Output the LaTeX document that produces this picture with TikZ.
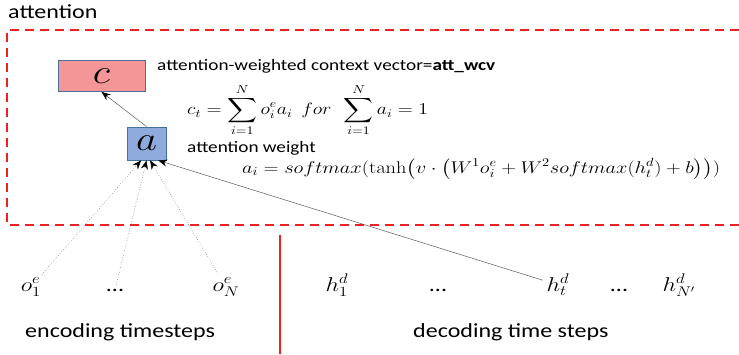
\RequirePackage{fix-cm}
\documentclass[tikz,border=0pt]{standalone}
\usepackage[no-math]{fontspec}
\setmainfont{Carlito}
\usepackage{amsmath}
\usetikzlibrary{arrows.meta}
\definecolor{framered}{RGB}{237,32,36}
\definecolor{boxedge}{RGB}{65,113,156}
\definecolor{cfill}{RGB}{244,150,152}
\definecolor{afill}{RGB}{143,170,220}

\begin{document}
\begin{tikzpicture}[x=0.8333pt, y=-1pt, xscale=1.2,
  every node/.style={transform shape, inner sep=0pt},
  vecbox/.style={draw=boxedge, line width=0.8pt, minimum height=31pt,
    font=\fontsize{34}{34}\selectfont},
  lbl/.style={anchor=base west, font=\fontsize{16}{19}\selectfont},
  eqn/.style={anchor=base west, font=\fontsize{17}{20}\selectfont},
  tstep/.style={anchor=base, font=\fontsize{20}{24}\selectfont},
  link/.style={-{Stealth[length=9pt,width=7pt,color=black]}, draw=gray!70!black, line width=0.5pt},
  dotlink/.style={link, dotted, shorten <=4pt},
  solidlink/.style={link, shorten <=4pt}]

\useasboundingbox (0,0) rectangle (739,354);

% --- title and frame ---
\node[anchor=base west, font=\fontsize{20}{24}\selectfont] (title) at (8,18) {attention};
\draw[framered, line width=2.2pt, dash pattern=on 9pt off 6pt] (739,30) -| (7,225) -- (739,225);
\draw[framered, line width=1.8pt] (280,235) -- (280,354);

% --- attention vectors ---
\node[vecbox, fill=cfill, minimum width=72.5pt] (c) at (101.5,76) {$c$};
\node[vecbox, fill=afill, minimum width=32.5pt, minimum height=33pt] (a) at (146.5,143.5) {$a$};

\node[lbl] (cname) at (157,70) {attention-weighted context vector=\textbf{att\_wcv}};
\node[anchor=west, font=\fontsize{16.5}{20}\selectfont] (ceq) at (187,110)
  {$\displaystyle c_t=\sum_{i=1}^{N}o_i^e a_i\;\, for\;\, \sum_{i=1}^{N}a_i=1$};
\node[lbl] (aname) at (187,152) {attention weight};
\node[eqn] (aeq) at (242,173)
  {$a_i=softmax(\tanh\bigl(v\cdot\bigl(W^1o_i^e+W^2softmax(h_t^d)+b\bigr)\bigr))$};

% --- time steps ---
\node[tstep] (o1) at (31,291) {$o_1^e$};
\node[tstep] (odots) at (115,291) {...};
\node[tstep] (oN) at (226,291) {$o_N^e$};
\node[tstep] (h1) at (337,291) {$h_1^d$};
\node[tstep] (hdots) at (438,291) {...};
\node[tstep] (ht) at (558,291) {$h_t^d$};
\node[tstep] (hdotsb) at (619,291) {...};
\node[tstep] (hN) at (679,291) {$h_{N'}^d$};

\node[anchor=base west, font=\fontsize{20}{24}\selectfont] (enc) at (25,337) {encoding timesteps};
\node[anchor=base west, font=\fontsize{20}{24}\selectfont] (dec) at (413,337) {decoding time steps};

% --- arrows ---
\draw[link] (a.north) -- (c.south);
\draw[dotlink] (o1) -- (a.255);
\draw[dotlink] (odots) -- (a.south);
\draw[dotlink] (oN) -- (a.280);
\draw[solidlink] (ht) -- (a.300);

\end{tikzpicture}
\end{document}
